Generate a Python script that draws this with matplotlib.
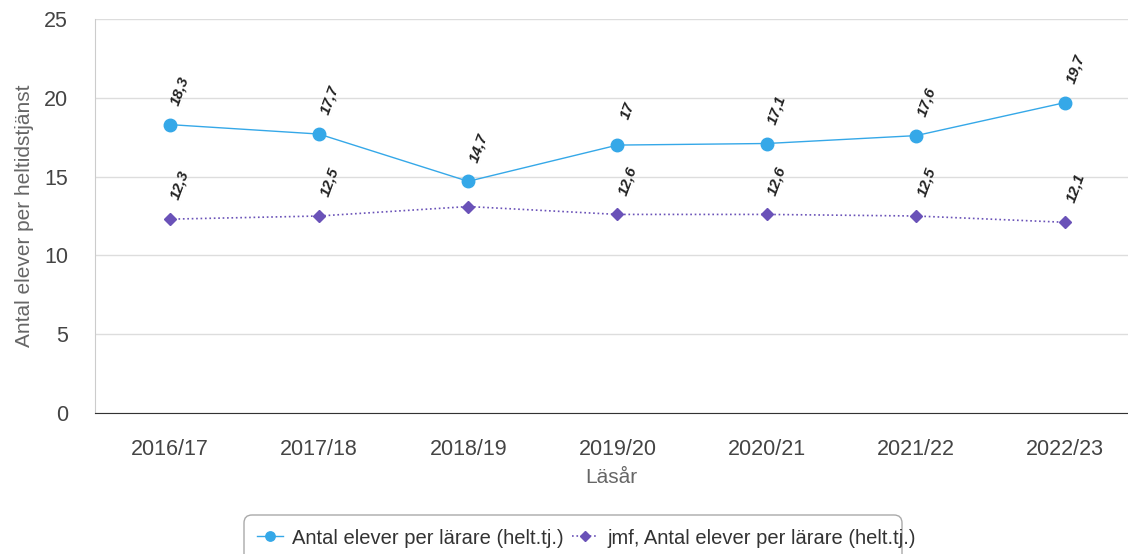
import matplotlib.pyplot as plt
from matplotlib.patches import FancyBboxPatch

# Data
years = ["2016/17", "2017/18", "2018/19", "2019/20", "2020/21", "2021/22", "2022/23"]
elever = [18.3, 17.7, 14.7, 17.0, 17.1, 17.6, 19.7]
jmf = [12.3, 12.5, 13.1, 12.6, 12.6, 12.5, 12.1]
jmf_labels = ["12,3", "12,5", None, "12,6", "12,6", "12,5", "12,1"]

blue = "#35a8e8"
purple = "#6a52b8"

plt.rcParams['font.family'] = ['Liberation Sans', 'DejaVu Sans']

fig = plt.figure(figsize=(11.28, 5.54), dpi=100)
ax = fig.add_axes([95/1128, 1 - 413/554, 1 - 95/1128, (413 - 19)/554])

x = list(range(len(years)))
ax.plot(x, elever, color=blue, lw=1.0, marker='o', ms=9, mec=blue, mfc=blue,
        label="Antal elever per lärare (helt.tj.)", zorder=4)
ax.plot(x, jmf, color=purple, lw=1.2, ls=':', marker='D', ms=6.5, mec=purple, mfc=purple,
        label="jmf, Antal elever per lärare (helt.tj.)", zorder=4)

def fmt(v):
    s = f"{v:.1f}".replace(".", ",")
    return s[:-2] if s.endswith(",0") else s

# value labels, rotated
lab_kw = dict(textcoords='offset points', rotation=70, ha='center', va='center',
              fontsize=11, fontweight='bold', fontstyle='italic', color='#222222')
for xi, v in zip(x, elever):
    ax.annotate(fmt(v), (xi, v), xytext=(7.5, 24.5), **lab_kw)
for xi, v, lab in zip(x, jmf, jmf_labels):
    if lab:
        ax.annotate(lab, (xi, v), xytext=(7.5, 24.5), **lab_kw)

ax.set_ylim(0, 25)
ax.set_yticks([0, 5, 10, 15, 20, 25])
ax.set_xlim(-0.5, 6.42)
ax.set_xticks(x)
ax.set_xticklabels(years)
ax.grid(axis='y', color='#dddddd', lw=1)
ax.set_axisbelow(True)
for s in ['top', 'right']:
    ax.spines[s].set_visible(False)
ax.spines['left'].set_color('#cccccc')
ax.spines['bottom'].set_color('#333333')
ax.tick_params(axis='both', length=0, labelcolor='#444444', labelsize=15.5)
ax.tick_params(axis='x', pad=18.5)
ax.tick_params(axis='y', pad=19.5)
ax.set_xlabel("Läsår", fontsize=15, color='#666666', labelpad=6)
ax.set_ylabel("Antal elever per heltidstjänst", fontsize=15, color='#666666',
              labelpad=7)

leg = fig.legend(loc='center left', bbox_to_anchor=(257/1128, 1 - 538/554), ncol=2,
                 fontsize=14.5, frameon=False, handlelength=1.3, markerscale=0.75,
                 columnspacing=0.4, handletextpad=0.45, borderpad=0,
                 borderaxespad=0)
for t in leg.get_texts():
    t.set_color('#333333')

# legend box (runs off the bottom of the image)
frame = FancyBboxPatch((2.44, -0.25), 6.58, 0.64, boxstyle="round,pad=0,rounding_size=0.08",
                       transform=fig.dpi_scale_trans, fc='none', ec='#aaaaaa', lw=1)
fig.patches.append(frame)

fig.savefig("out.png", dpi=100)
